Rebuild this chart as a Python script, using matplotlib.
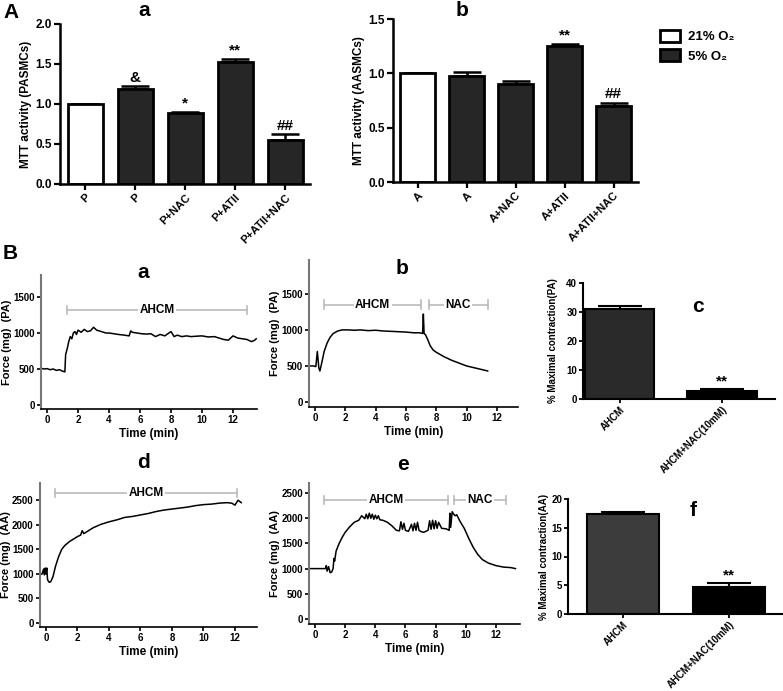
import matplotlib
matplotlib.use("Agg")
import matplotlib.pyplot as plt
from matplotlib.patches import Patch

plt.rcParams['font.family'] = ['Liberation Sans', 'DejaVu Sans']
plt.rcParams['font.weight'] = 'bold'

# ---- panel A data ----
pa_groups = ['P', 'P', 'P+NAC', 'P+ATII', 'P+ATII+NAC']
pa_mtt = [1.0, 1.19, 0.89, 1.52, 0.55]
pa_err = [0.0, 0.03, 0.015, 0.04, 0.07]
pa_marks = ['', '&', '*', '**', '##']

aa_groups = ['A', 'A', 'A+NAC', 'A+ATII', 'A+ATII+NAC']
aa_mtt = [1.0, 0.98, 0.90, 1.25, 0.70]
aa_err = [0.0, 0.03, 0.03, 0.02, 0.03]
aa_marks = ['', '', '', '**', '##']

o2_labels = ['21% O\u2082', '5% O\u2082']

# ---- panel B traces (time in min, force in mg) ----
pa_ahcm_t = [-0.4, -0.2, 0.0, 0.2, 0.4, 0.6, 0.8, 1.0, 1.15, 1.2, 1.3, 1.4, 1.5, 1.6, 1.7,
             1.8, 1.9, 2.0, 2.2, 2.4, 2.6, 2.8, 3.0, 3.2, 3.5, 3.8, 4.0, 4.3, 4.6, 5.0,
             5.3, 5.4, 5.5, 5.8, 6.1, 6.4, 6.7, 7.0, 7.3, 7.6, 7.8, 8.0, 8.2, 8.4, 8.7,
             9.0, 9.3, 9.6, 10.0, 10.4, 10.8, 11.1, 11.4, 11.7, 12.0, 12.3, 12.6, 12.9,
             13.2, 13.4, 13.5]
pa_ahcm_f = [510, 500, 505, 490, 500, 480, 490, 470, 460, 700, 780, 880, 950, 920, 1000,
             1020, 980, 1040, 1010, 1050, 1020, 1030, 1080, 1040, 1020, 1000, 1000, 990, 980, 970,
             960, 1030, 1010, 1000, 990, 985, 990, 950, 980, 960, 990, 1020, 950, 970, 950,
             960, 950, 955, 960, 945, 950, 930, 910, 900, 960, 930, 920, 910,
             880, 900, 920]

pa_nac_t = [-0.4, -0.1, 0.05, 0.15, 0.25, 0.32, 0.45, 0.6, 0.8, 1.0, 1.2, 1.5, 1.8, 2.2,
            2.6, 3.0, 3.5, 4.0, 4.5, 5.0, 5.5, 6.0, 6.5, 6.9, 7.1, 7.15, 7.2, 7.3, 7.45,
            7.6, 7.8, 8.0, 8.5, 9.0, 9.5, 10.0, 10.5, 11.0, 11.4]
pa_nac_f = [500, 500, 490, 700, 470, 430, 550, 700, 820, 900, 950, 985, 1000, 1000,
            995, 1000, 990, 995, 985, 980, 975, 970, 960, 960, 950, 1220, 950, 930, 860,
            780, 720, 690, 630, 580, 540, 500, 475, 450, 430]

aa_ahcm_t = [-0.4, -0.25, -0.15, -0.1, -0.05, 0.0, 0.05, 0.1, 0.2, 0.3, 0.45, 0.6, 0.8,
             1.0, 1.2, 1.5, 1.8, 2.0, 2.2, 2.3, 2.4, 2.7, 3.0, 3.5, 4.0, 4.5, 5.0, 5.5,
             6.0, 6.5, 7.0, 7.5, 8.0, 8.5, 9.0, 9.5, 10.0, 10.5, 11.0, 11.5, 11.8, 12.0,
             12.2, 12.4]
aa_ahcm_f = [980, 1000, 1100, 980, 1120, 1000, 1120, 880, 830, 840, 950, 1150, 1350,
             1500, 1580, 1660, 1720, 1760, 1790, 1880, 1820, 1880, 1940, 2010, 2060, 2100, 2150, 2170,
             2200, 2230, 2270, 2300, 2320, 2340, 2360, 2390, 2410, 2420, 2440, 2450, 2440, 2400,
             2500, 2450]

aa_nac_t = [-0.3, 0.7, 0.75, 0.8, 0.9, 1.0, 1.1, 1.2, 1.25, 1.3, 1.4, 1.6, 1.8, 2.0, 2.3,
            2.6, 2.9, 3.1, 3.3, 3.4, 3.5, 3.6, 3.7, 3.8, 3.9, 4.0, 4.1, 4.2, 4.3, 4.5,
            4.8, 5.1, 5.4, 5.6, 5.7, 5.8, 5.9, 6.0, 6.2, 6.4, 6.5, 6.6, 6.7, 6.8, 6.9,
            7.0, 7.2, 7.5, 7.6, 7.7, 7.8, 7.9, 8.0, 8.1, 8.2, 8.4, 8.7, 8.9, 8.95, 9.0,
            9.1, 9.2, 9.3, 9.4, 9.6, 9.9, 10.2, 10.5, 10.8, 11.1, 11.5, 12.0, 12.5, 13.0, 13.3]
aa_nac_f = [1000, 1000, 1060, 950, 1040, 920, 930, 1000, 1200, 1150, 1350, 1500, 1620, 1720, 1830,
            1920, 1960, 2050, 1990, 2080, 1990, 2100, 2000, 2080, 1980, 2060, 1990, 2050, 1970, 1960,
            1920, 1850, 1760, 1750, 1930, 1780, 1900, 1760, 1740, 1880, 1750, 1900, 1760, 1920, 1760,
            1740, 1720, 1760, 1950, 1780, 1960, 1790, 1950, 1800, 1920, 1800, 1790, 1760, 2100, 1820,
            2130, 2080, 2050, 2070, 1950, 1800, 1600, 1420, 1280, 1180, 1110, 1060, 1030, 1020, 1000]

# ---- panel B bar data ----
contr_groups = ['AHCM', 'AHCM+NAC(10mM)']
pa_contr = [31.0, 2.8]
pa_contr_err = [1.2, 0.6]
aa_contr = [17.4, 4.7]
aa_contr_err = [0.4, 0.7]

W, H = 783, 691
fig = plt.figure(figsize=(W / 100, H / 100), dpi=100)


def box(l, r, t, b):
    return [l / W, 1 - b / H, (r - l) / W, (b - t) / H]


def mtt_panel(ax, groups, vals, errs, marks, ymax, yticks, ylabel):
    x = range(len(groups))
    colors = ['white'] + ['#262626'] * (len(groups) - 1)
    ax.bar(x, vals, width=0.7, color=colors, edgecolor='black', linewidth=2, zorder=2)
    ax.errorbar(x, vals, yerr=[[0] * len(errs), errs], fmt='none', ecolor='black',
                elinewidth=1.8, capsize=10, capthick=1.8, zorder=1)
    for xi, v, e, m in zip(x, vals, errs, marks):
        if m:
            ax.text(xi, v + e + ymax * 0.01, m, ha='center', va='bottom', fontsize=11,
                    fontweight='bold')
    ax.set_xlim(-0.5, len(groups) - 0.5)
    ax.set_ylim(0, ymax)
    ax.set_yticks(yticks)
    ax.set_yticklabels([f'{t:.1f}' for t in yticks], fontsize=8.5, fontweight='bold')
    ax.set_xticks(list(x))
    ax.set_xticklabels(groups, rotation=45, ha='right', rotation_mode='anchor',
                       fontsize=8, fontweight='bold')
    ax.set_ylabel(ylabel, fontsize=8.5, fontweight='bold', labelpad=2)
    for s in ['top', 'right']:
        ax.spines[s].set_visible(False)
    for s in ['left', 'bottom']:
        ax.spines[s].set_linewidth(1.8)
    ax.tick_params(width=1.6, length=4, pad=2)


ax_a = fig.add_axes(box(60, 310, 24, 184))
mtt_panel(ax_a, pa_groups, pa_mtt, pa_err, pa_marks, 2.0, [0, 0.5, 1.0, 1.5, 2.0],
          'MTT activity (PASMCs)')
ax_b = fig.add_axes(box(393, 638, 19, 182))
mtt_panel(ax_b, aa_groups, aa_mtt, aa_err, aa_marks, 1.5, [0, 0.5, 1.0, 1.5],
          'MTT activity (AASMCs)')

fig.text(144 / W, 1 - 11 / H, 'a', fontsize=15, fontweight='bold', ha='center', va='center')
fig.text(462 / W, 1 - 11 / H, 'b', fontsize=15, fontweight='bold', ha='center', va='center')
fig.text(3 / W, 1 - 13 / H, 'A', fontsize=15, fontweight='bold', ha='left', va='center')
fig.text(3 / W, 1 - 254 / H, 'B', fontsize=15, fontweight='bold', ha='left', va='center')

handles = [Patch(facecolor='white', edgecolor='black', linewidth=2),
           Patch(facecolor='#262626', edgecolor='black', linewidth=2)]
fig.legend(handles, o2_labels, loc='upper left', bbox_to_anchor=(648 / W, 1 - 18 / H),
           frameon=False, fontsize=9.5, handlelength=1.5, handleheight=1.0,
           labelspacing=0.45, handletextpad=0.6)


def trace_panel(ax, t, f, ylim, yticks, ylabel, brackets, xlim):
    ax.plot(t, f, color='black', linewidth=1.1)
    ax.set_xlim(*xlim)
    ax.set_ylim(*ylim)
    ax.set_xticks(range(0, 13, 2))
    ax.set_yticks(yticks)
    ax.tick_params(labelsize=7, width=1.2, length=3, pad=1.5)
    for lab in ax.get_xticklabels() + ax.get_yticklabels():
        lab.set_fontweight('bold')
    ax.set_xlabel('Time (min)', fontsize=8.5, fontweight='bold', labelpad=2)
    ax.set_ylabel(ylabel, fontsize=8, fontweight='bold', labelpad=1)
    for s in ['top', 'right']:
        ax.spines[s].set_visible(False)
    ax.spines['left'].set_color('#777777')
    ax.spines['left'].set_linewidth(1.5)
    ax.spines['bottom'].set_linewidth(1.2)
    for x0, x1, yb, name in brackets:
        ax.plot([x0, x1], [yb, yb], color='#bbbbbb', linewidth=1.2, clip_on=False)
        dy = (ylim[1] - ylim[0]) * 0.03
        for xe in (x0, x1):
            ax.plot([xe, xe], [yb - dy, yb + dy], color='#bbbbbb', linewidth=1.2, clip_on=False)
        ax.text((x0 + x1) / 2, yb, name, ha='center', va='center', fontsize=8.5,
                fontweight='bold', bbox=dict(facecolor='white', edgecolor='none', pad=1))


ax_ba = fig.add_axes(box(41, 257, 275, 409))
trace_panel(ax_ba, pa_ahcm_t, pa_ahcm_f, (-56, 1806), [0, 500, 1000, 1500], 'Force (mg)  (PA)',
            [(1.3, 12.9, 1320, 'AHCM')], (-0.39, 13.55))
ax_bb = fig.add_axes(box(309, 518, 260, 407))
trace_panel(ax_bb, pa_nac_t, pa_nac_f, (-70, 1970), [0, 500, 1000, 1500], 'Force (mg)  (PA)',
            [(0.6, 7.0, 1350, 'AHCM'), (7.5, 11.4, 1350, 'NAC')], (-0.4, 13.4))
ax_bd = fig.add_axes(box(40, 257, 483, 627))
trace_panel(ax_bd, aa_ahcm_t, aa_ahcm_f, (-80, 2850), [0, 500, 1000, 1500, 2000, 2500],
            'Force (mg)  (AA)', [(0.6, 12.1, 2650, 'AHCM')], (-0.38, 13.4))
ax_be = fig.add_axes(box(309, 520, 483, 624))
trace_panel(ax_be, aa_nac_t, aa_nac_f, (-100, 2700), [0, 500, 1000, 1500, 2000, 2500],
            'Force (mg)  (AA)', [(0.6, 8.8, 2360, 'AHCM'), (9.2, 12.7, 2360, 'NAC')],
            (-0.4, 13.6))

for x, y, s in [(143, 272, 'a'), (402, 268, 'b'), (143, 462, 'd'), (403, 465, 'e')]:
    fig.text(x / W, 1 - y / H, s, fontsize=15, fontweight='bold', ha='center', va='center')


def contr_panel(ax, vals, errs, colors, ymax, yticks, ylabel, xlim, tag, tag_xy, lpad, xfs):
    x = range(len(vals))
    ax.bar(x, vals, width=0.68, color=colors, edgecolor='black', linewidth=1.5, zorder=2)
    ax.errorbar(x, vals, yerr=[[0] * len(errs), errs], fmt='none', ecolor='black',
                elinewidth=1.5, capsize=16, capthick=1.5, zorder=1)
    ax.text(1, vals[1] + errs[1] + ymax * 0.005, '**', ha='center', va='bottom',
            fontsize=11, fontweight='bold')
    ax.set_xlim(*xlim)
    ax.set_ylim(0, ymax)
    ax.set_yticks(yticks)
    ax.set_xticks(list(x))
    ax.set_xticklabels(contr_groups, rotation=45, ha='right', rotation_mode='anchor',
                       fontsize=xfs, fontweight='bold')
    ax.tick_params(labelsize=7, width=1.3, length=3, pad=1.2)
    ax.tick_params(axis='x', pad=0.8)
    for lab in ax.get_yticklabels():
        lab.set_fontweight('bold')
    ax.set_ylabel(ylabel, fontsize=7, fontweight='bold', labelpad=lpad)
    for s in ['top', 'right']:
        ax.spines[s].set_visible(False)
    for s in ['left', 'bottom']:
        ax.spines[s].set_linewidth(1.5)
    ax.text(tag_xy[0], tag_xy[1], tag, transform=ax.transAxes, fontsize=15,
            fontweight='bold', ha='center', va='center')


ax_bc = fig.add_axes(box(583, 775, 283, 399))
contr_panel(ax_bc, pa_contr, pa_contr_err, ['#2a2a2a', 'black'], 40, [0, 10, 20, 30, 40],
            '% Maximal contraction(PA)', (-0.36, 1.52), 'c', (0.6, 0.8), 6, 6)
ax_bf = fig.add_axes(box(568, 783, 499, 614))
contr_panel(ax_bf, aa_contr, aa_contr_err, ['#3c3c3c', 'black'], 20, [0, 5, 10, 15, 20],
            '% Maximal contraction(AA)', (-0.52, 1.51), 'f', (0.58, 0.9), 2, 5)

fig.savefig('out.png', dpi=100)
